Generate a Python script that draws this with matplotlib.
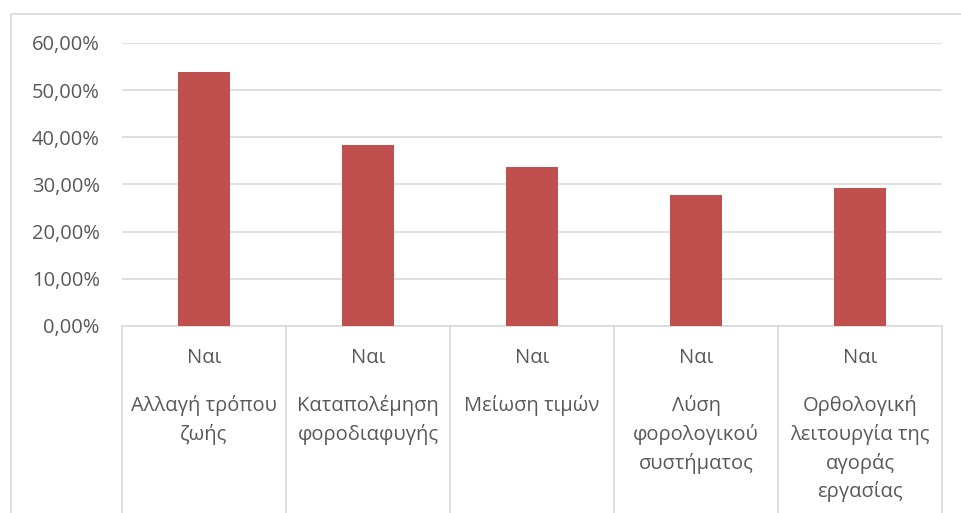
import matplotlib.pyplot as plt
from matplotlib.patches import Rectangle
from matplotlib.ticker import FuncFormatter

plt.rcParams['font.family'] = ['Open Sans', 'DejaVu Sans']

outer = ["Ναι", "Ναι", "Ναι", "Ναι", "Ναι"]
inner = ["Αλλαγή τρόπου\nζωής",
         "Καταπολέμηση\nφοροδιαφυγής",
         "Μείωση τιμών",
         "Λύση\nφορολογικού\nσυστήματος",
         "Ορθολογική\nλειτουργία της\nαγοράς\nεργασίας"]
values = [0.538, 0.384, 0.338, 0.277, 0.292]

W, H = 961, 513
fig = plt.figure(figsize=(W / 100, H / 100), dpi=100)
fig.patch.set_facecolor('white')

# outer chart border (bottom/right run off the image)
fig.patches.append(Rectangle((11 / W, -0.1), 1.1, (H - 14) / H + 0.1,
                             transform=fig.transFigure, fill=False,
                             edgecolor='#d9d9d9', linewidth=1.2))

ax = fig.add_axes([122 / W, (H - 326) / H, (942 - 122) / W, (326 - 43) / H])
x = range(len(values))
ax.bar(x, values, width=0.32, color='#c0504d', zorder=3)

ax.set_xlim(-0.5, len(values) - 0.5)
ax.set_ylim(0, 0.6)
ax.set_yticks([i / 10 for i in range(7)])
ax.yaxis.set_major_formatter(FuncFormatter(lambda v, p: f"{v * 100:.2f}%".replace('.', ',')))
ax.tick_params(axis='y', length=0, pad=16, labelsize=14.5, labelcolor='#595959')
ax.set_xticks([])
ax.grid(axis='y', color='#d9d9d9', linewidth=1.2, zorder=0)
for s in ['top', 'right', 'left']:
    ax.spines[s].set_visible(False)
ax.spines['bottom'].set_color('#d9d9d9')
ax.spines['bottom'].set_linewidth(1.2)

# multi-level category axis
trans = ax.get_xaxis_transform()
for b in range(len(values) + 1):
    ax.plot([b - 0.5, b - 0.5], [0, -0.7], transform=trans, color='#d9d9d9',
            linewidth=1.2, clip_on=False)
for i in x:
    ax.text(i, -0.113, outer[i], transform=trans, ha='center', va='center',
            fontsize=14.5, color='#595959')
    ax.text(i, -0.245, inner[i], transform=trans, ha='center', va='top',
            fontsize=14.5, color='#595959', linespacing=1.48)

fig.savefig('out.png', dpi=100)
